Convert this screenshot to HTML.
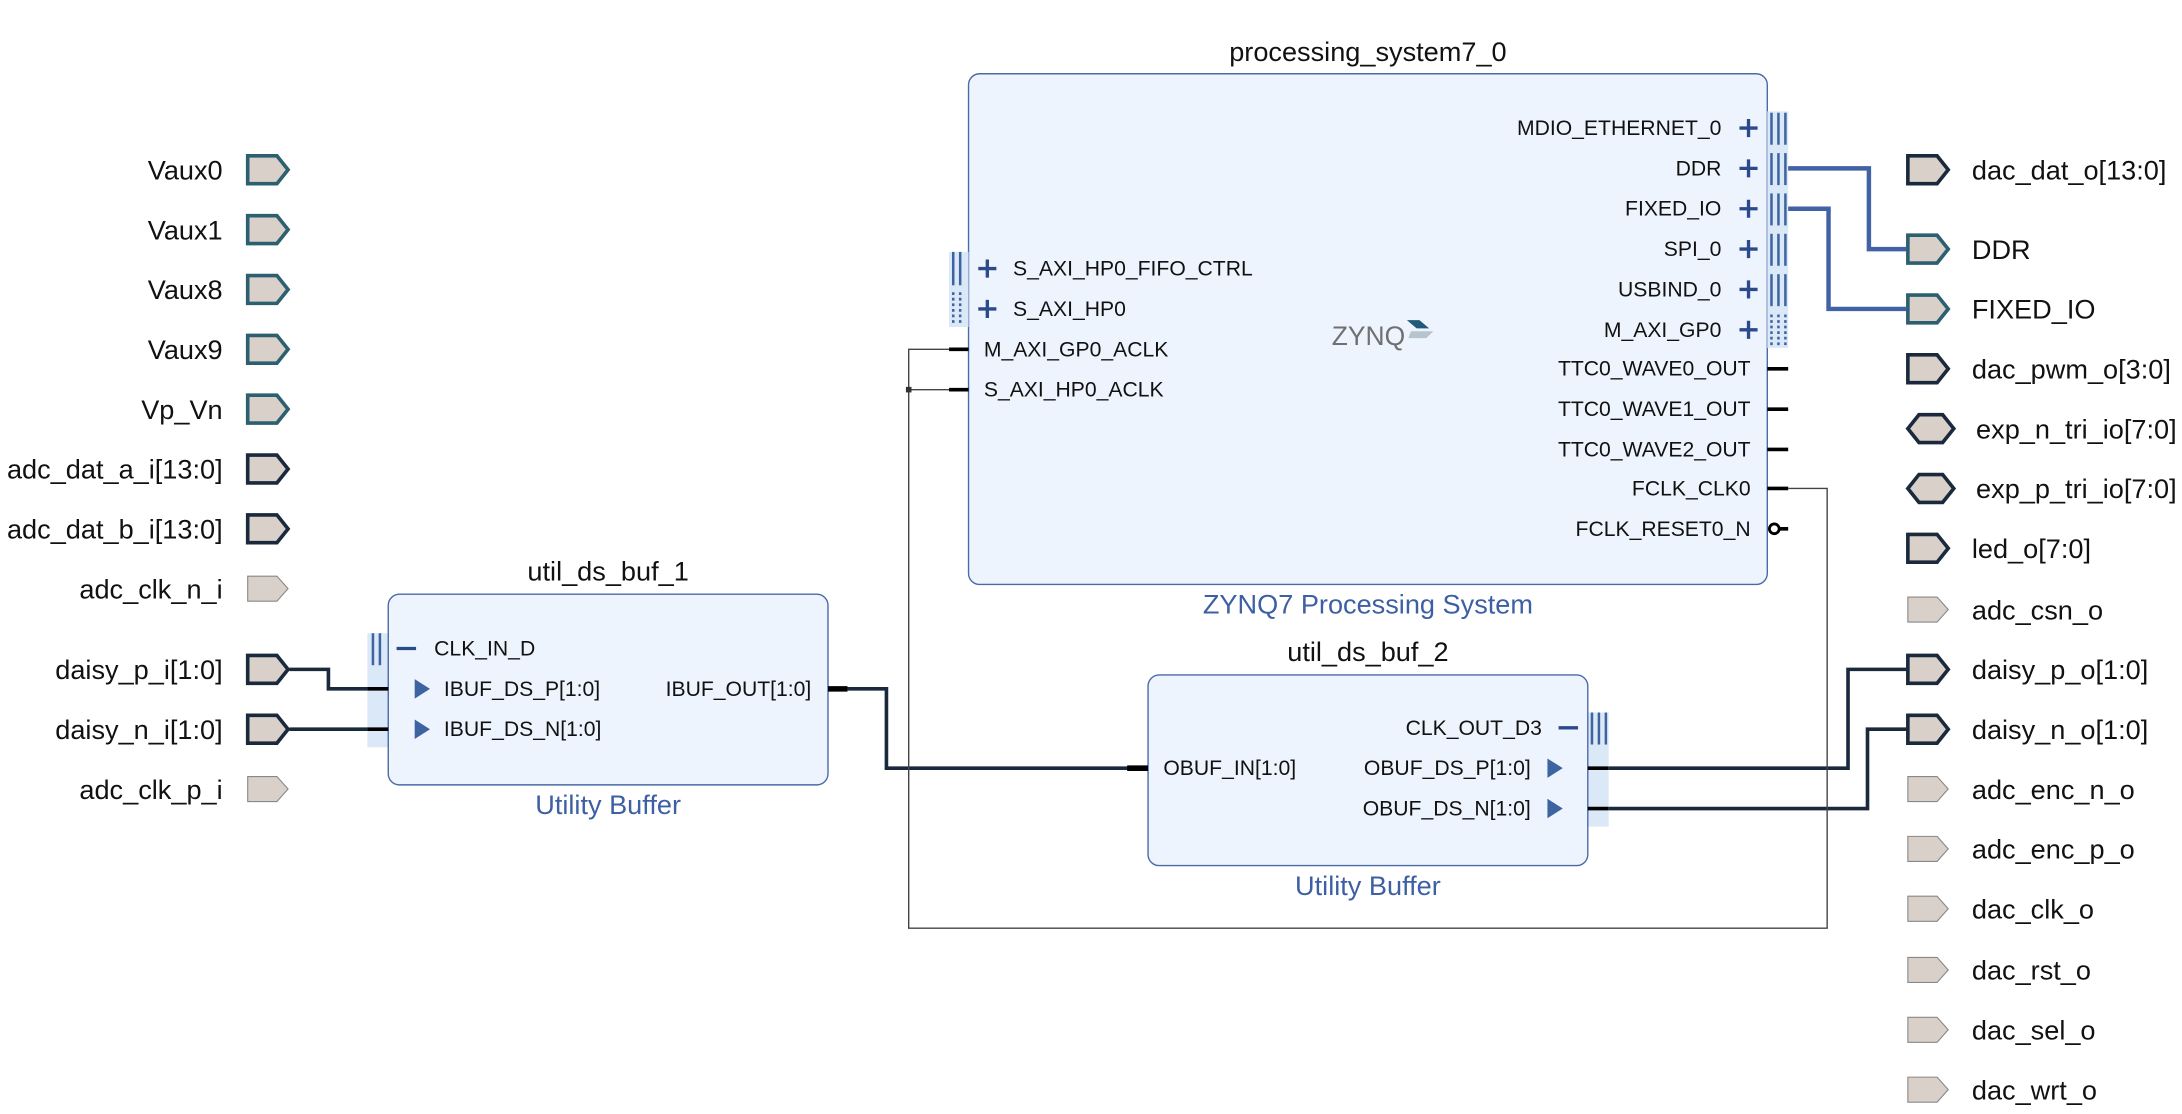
<!DOCTYPE html>
<html><head><meta charset="utf-8"><style>
html,body{margin:0;padding:0;background:#fff;}
svg{display:block;}
text{font-family:"Liberation Sans",sans-serif;fill:#111;}
.pl{font-size:19.5px;}
.pin{font-size:15.2px;}
.ttl{font-size:19.5px;}
.sub{font-size:19.5px;fill:#3d5fa3;}
</style></head><body>
<svg width="2182" height="1114" viewBox="0 0 1568 800.5" preserveAspectRatio="none" xmlns="http://www.w3.org/2000/svg">
<!-- left ports -->
<g>
<g stroke="#2c6070" stroke-width="2.6">
<path d="M178,112 H199 L207,122 L199,132 H178 Z" fill="#d9d0ca"/>
<path d="M178,155 H199 L207,165 L199,175 H178 Z" fill="#d9d0ca"/>
<path d="M178,198 H199 L207,208 L199,218 H178 Z" fill="#d9d0ca"/>
<path d="M178,241 H199 L207,251 L199,261 H178 Z" fill="#d9d0ca"/>
<path d="M178,284 H199 L207,294 L199,304 H178 Z" fill="#d9d0ca"/>
</g>
<g stroke="#1a2a3c" stroke-width="2.6">
<path d="M178,327 H199 L207,337 L199,347 H178 Z" fill="#d9d0ca"/>
<path d="M178,370 H199 L207,380 L199,390 H178 Z" fill="#d9d0ca"/>
<path d="M178,471 H199 L207,481 L199,491 H178 Z" fill="#d9d0ca"/>
<path d="M178,514 H199 L207,524 L199,534 H178 Z" fill="#d9d0ca"/>
</g>
<g stroke="#888" stroke-width="0.8">
<path d="M178,414 H199 L207,423 L199,432 H178 Z" fill="#d9d0ca"/>
<path d="M178,558 H199 L207,567 L199,576 H178 Z" fill="#d9d0ca"/>
</g>
<g class="pl" text-anchor="end">
<text x="160" y="129">Vaux0</text>
<text x="160" y="172">Vaux1</text>
<text x="160" y="215">Vaux8</text>
<text x="160" y="258">Vaux9</text>
<text x="160" y="301">Vp_Vn</text>
<text x="160" y="344">adc_dat_a_i[13:0]</text>
<text x="160" y="387">adc_dat_b_i[13:0]</text>
<text x="160" y="430">adc_clk_n_i</text>
<text x="160" y="488">daisy_p_i[1:0]</text>
<text x="160" y="531">daisy_n_i[1:0]</text>
<text x="160" y="574">adc_clk_p_i</text>
</g>
</g>

<!-- right ports -->
<g>
<g stroke="#1a2a3c" stroke-width="2.6" fill="#d9d0ca">
<path d="M1371,112 H1392 L1400,122 L1392,132 H1371 Z"/>
<path d="M1371,255 H1392 L1400,265 L1392,275 H1371 Z"/>
<path d="M1371,384 H1392 L1400,394 L1392,404 H1371 Z"/>
<path d="M1371,471 H1392 L1400,481 L1392,491 H1371 Z"/>
<path d="M1371,514 H1392 L1400,524 L1392,534 H1371 Z"/>
<path d="M1371,308 L1379,298 H1396 L1404,308 L1396,318 H1379 Z"/>
<path d="M1371,351 L1379,341 H1396 L1404,351 L1396,361 H1379 Z"/>
</g>
<g stroke="#2c6070" stroke-width="2.6" fill="#d9d0ca">
<path d="M1371,169 H1392 L1400,179 L1392,189 H1371 Z"/>
<path d="M1371,212 H1392 L1400,222 L1392,232 H1371 Z"/>
</g>
<g stroke="#888" stroke-width="0.8" fill="#d9d0ca">
<path d="M1371,429 H1392 L1400,438 L1392,447 H1371 Z"/>
<path d="M1371,558 H1392 L1400,567 L1392,576 H1371 Z"/>
<path d="M1371,601 H1392 L1400,610 L1392,619 H1371 Z"/>
<path d="M1371,644 H1392 L1400,653 L1392,662 H1371 Z"/>
<path d="M1371,688 H1392 L1400,697 L1392,706 H1371 Z"/>
<path d="M1371,731 H1392 L1400,740 L1392,749 H1371 Z"/>
<path d="M1371,774 H1392 L1400,783 L1392,792 H1371 Z"/>
</g>
<g class="pl">
<text x="1417" y="129">dac_dat_o[13:0]</text>
<text x="1417" y="186">DDR</text>
<text x="1417" y="229">FIXED_IO</text>
<text x="1417" y="272">dac_pwm_o[3:0]</text>
<text x="1420" y="315">exp_n_tri_io[7:0]</text>
<text x="1420" y="358">exp_p_tri_io[7:0]</text>
<text x="1417" y="401">led_o[7:0]</text>
<text x="1417" y="445">adc_csn_o</text>
<text x="1417" y="488">daisy_p_o[1:0]</text>
<text x="1417" y="531">daisy_n_o[1:0]</text>
<text x="1417" y="574">adc_enc_n_o</text>
<text x="1417" y="617">adc_enc_p_o</text>
<text x="1417" y="660">dac_clk_o</text>
<text x="1417" y="704">dac_rst_o</text>
<text x="1417" y="747">dac_sel_o</text>
<text x="1417" y="790">dac_wrt_o</text>
</g>
</g>

<!-- wires -->
<g fill="none" stroke="#1a2a3c" stroke-width="2.6">
<path d="M208,481 H236 V495 H279"/>
<path d="M208,524 H279"/>
<path d="M609,495 H637 V552 H812"/>
<path d="M1156,552 H1328 V481 H1370"/>
<path d="M1156,581 H1342 V524 H1370"/>
</g>
<g fill="none" stroke="#4262a6" stroke-width="3.2">
<path d="M1284,121 H1343 V179 H1370"/>
<path d="M1284,150 H1314 V222 H1370"/>
</g>
<g fill="none" stroke="#444" stroke-width="1">
<path d="M1285,351 H1313 V667 H653 V251 H682"/>
<path d="M653,280 H682"/>
</g>
<rect x="651" y="278" width="4" height="4" fill="#333"/>

<!-- processing_system7_0 -->
<rect x="696" y="53" width="574" height="367" rx="8" fill="#edf4fd" stroke="#4a6aa8" stroke-width="1"/>
<text class="ttl" x="983" y="44" text-anchor="middle">processing_system7_0</text>
<text class="sub" x="983" y="441" text-anchor="middle">ZYNQ7 Processing System</text>
<text x="957" y="248" style="font-size:19px;fill:#707070;">ZYNQ</text>
<path d="M1011,230 L1020,230 L1027,236 L1018,236 Z" fill="#1f5a78"/>
<path d="M1014,238 L1030,238 L1025,243 L1012,243 Z" fill="#b8c4cc"/>
<!-- left pins -->
<rect x="682" y="181" width="14" height="54" fill="#dbe8f8"/>
<g stroke="#3d64a0" stroke-width="1.8">
<line x1="685" y1="181" x2="685" y2="205"/><line x1="690" y1="181" x2="690" y2="205"/>
<line x1="685" y1="210" x2="685" y2="234" stroke-dasharray="2,2"/><line x1="690" y1="210" x2="690" y2="234" stroke-dasharray="2,2"/>
</g>
<g stroke="#2b4a8a" stroke-width="2.4">
<path d="M703,193 H716 M709.5,186.5 V199.5"/>
<path d="M703,222 H716 M709.5,215.5 V228.5"/>
</g>
<g stroke="#000" stroke-width="2.6"><line x1="682" y1="251" x2="696" y2="251"/><line x1="682" y1="280" x2="696" y2="280"/></g>
<g class="pin">
<text x="728" y="198">S_AXI_HP0_FIFO_CTRL</text>
<text x="728" y="227">S_AXI_HP0</text>
<text x="707" y="256">M_AXI_GP0_ACLK</text>
<text x="707" y="285">S_AXI_HP0_ACLK</text>
</g>
<!-- right pins -->
<rect x="1270" y="80" width="15" height="170" fill="#dbe8f8"/>
<g stroke="#3d64a0" stroke-width="1.8">
<g id="bb"><line x1="1273" y1="81" x2="1273" y2="104"/><line x1="1278" y1="81" x2="1278" y2="104"/><line x1="1283" y1="81" x2="1283" y2="104"/></g>
<use href="#bb" y="29"/><use href="#bb" y="58"/><use href="#bb" y="87"/><use href="#bb" y="116"/>
<g stroke-dasharray="2,2"><use href="#bb" y="145"/></g>
</g>
<g stroke="#2b4a8a" stroke-width="2.4">
<path d="M1250,92 H1263 M1256.5,85.5 V98.5"/>
<path d="M1250,121 H1263 M1256.5,114.5 V127.5"/>
<path d="M1250,150 H1263 M1256.5,143.5 V156.5"/>
<path d="M1250,179 H1263 M1256.5,172.5 V185.5"/>
<path d="M1250,208 H1263 M1256.5,201.5 V214.5"/>
<path d="M1250,237 H1263 M1256.5,230.5 V243.5"/>
</g>
<g stroke="#000" stroke-width="2.6">
<line x1="1270" y1="265" x2="1285" y2="265"/><line x1="1270" y1="294" x2="1285" y2="294"/>
<line x1="1270" y1="323" x2="1285" y2="323"/><line x1="1270" y1="351" x2="1285" y2="351"/>
<line x1="1279" y1="380" x2="1285" y2="380"/>
</g>
<circle cx="1275" cy="380" r="3.5" fill="#fff" stroke="#000" stroke-width="2"/>
<g class="pin" text-anchor="end">
<text x="1237" y="97">MDIO_ETHERNET_0</text>
<text x="1237" y="126">DDR</text>
<text x="1237" y="155">FIXED_IO</text>
<text x="1237" y="184">SPI_0</text>
<text x="1237" y="213">USBIND_0</text>
<text x="1237" y="242">M_AXI_GP0</text>
<text x="1258" y="270">TTC0_WAVE0_OUT</text>
<text x="1258" y="299">TTC0_WAVE1_OUT</text>
<text x="1258" y="328">TTC0_WAVE2_OUT</text>
<text x="1258" y="356">FCLK_CLK0</text>
<text x="1258" y="385">FCLK_RESET0_N</text>
</g>

<!-- util_ds_buf_1 -->
<rect x="264" y="455" width="15" height="82" fill="#dbe8f8"/>
<rect x="279" y="427" width="316" height="137" rx="8" fill="#edf4fd" stroke="#4a6aa8" stroke-width="1"/>
<text class="ttl" x="437" y="417" text-anchor="middle">util_ds_buf_1</text>
<text class="sub" x="437" y="585" text-anchor="middle">Utility Buffer</text>
<g stroke="#3d64a0" stroke-width="1.8"><line x1="268" y1="455" x2="268" y2="478"/><line x1="273" y1="455" x2="273" y2="478"/></g>
<line x1="285" y1="466" x2="299" y2="466" stroke="#2b4a8a" stroke-width="2.4"/>
<path d="M298,488 L309,495 L298,502 Z" fill="#3d64a0"/>
<path d="M298,517 L309,524 L298,531 Z" fill="#3d64a0"/>
<g stroke="#000" stroke-width="2.6"><line x1="264" y1="495" x2="279" y2="495"/><line x1="264" y1="524" x2="279" y2="524"/></g>
<line x1="595" y1="495" x2="609" y2="495" stroke="#000" stroke-width="4"/>
<g class="pin">
<text x="312" y="471">CLK_IN_D</text>
<text x="319" y="500">IBUF_DS_P[1:0]</text>
<text x="319" y="529">IBUF_DS_N[1:0]</text>
<text x="583" y="500" text-anchor="end">IBUF_OUT[1:0]</text>
</g>

<!-- util_ds_buf_2 -->
<rect x="1141" y="512" width="15" height="82" fill="#dbe8f8"/>
<rect x="825" y="485" width="316" height="137" rx="8" fill="#edf4fd" stroke="#4a6aa8" stroke-width="1"/>
<text class="ttl" x="983" y="475" text-anchor="middle">util_ds_buf_2</text>
<text class="sub" x="983" y="643" text-anchor="middle">Utility Buffer</text>
<line x1="810" y1="552" x2="825" y2="552" stroke="#000" stroke-width="4"/>
<line x1="1120" y1="523" x2="1134" y2="523" stroke="#2b4a8a" stroke-width="2.4"/>
<g stroke="#3d64a0" stroke-width="1.8"><line x1="1144" y1="512" x2="1144" y2="535"/><line x1="1149" y1="512" x2="1149" y2="535"/><line x1="1154" y1="512" x2="1154" y2="535"/></g>
<path d="M1112,545 L1123,552 L1112,559 Z" fill="#3d64a0"/>
<path d="M1112,574 L1123,581 L1112,588 Z" fill="#3d64a0"/>
<g stroke="#000" stroke-width="2.6"><line x1="1141" y1="552" x2="1156" y2="552"/><line x1="1141" y1="581" x2="1156" y2="581"/></g>
<g class="pin">
<text x="836" y="557">OBUF_IN[1:0]</text>
<text x="1108" y="528" text-anchor="end">CLK_OUT_D3</text>
<text x="1100" y="557" text-anchor="end">OBUF_DS_P[1:0]</text>
<text x="1100" y="586" text-anchor="end">OBUF_DS_N[1:0]</text>
</g>
</svg>
</body></html>
